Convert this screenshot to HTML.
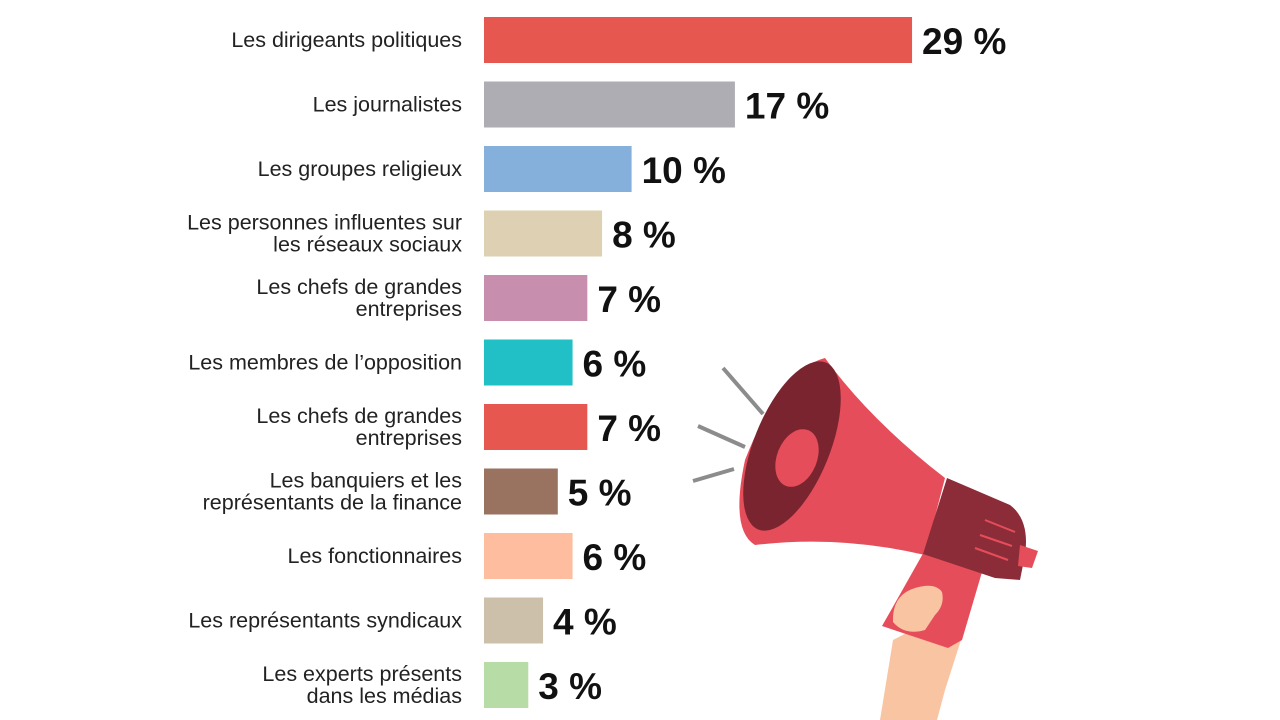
<!DOCTYPE html>
<html><head><meta charset="utf-8"><style>
body{margin:0;width:1280px;height:720px;background:#fff;overflow:hidden;font-family:"Liberation Sans",sans-serif}
svg{position:absolute;left:0;top:0}
</style></head><body>
<svg id="chart" width="1280" height="720">
<g id="mega">
 <g stroke="#8c8c8c" stroke-width="4">
  <line x1="723" y1="368" x2="763" y2="414"/>
  <line x1="698" y1="426" x2="745" y2="447"/>
  <line x1="693" y1="481" x2="734" y2="469"/>
 </g>
 <path d="M880,720 L893,640 L955,608 L968,618 L945,690 L937,720 Z" fill="#f9c4a2"/>
 <path d="M925,550 L982,572 L962,640 L948,648 L882,626 L890,612 Z" fill="#e64d5a"/>
 <path d="M893,622 Q892,595 915,588 Q935,582 942,592 Q945,605 935,615 L925,630 Q905,636 893,622Z" fill="#f9c4a2"/>
 <path d="M825,358 Q870,420 945,478 L925,555 Q840,535 755,545 Q730,530 745,460 Q780,370 825,358Z" fill="#e64d5a"/>
 <ellipse cx="792" cy="446" rx="38" ry="90" transform="rotate(22 792 446)" fill="#7a2430"/>
 <ellipse cx="797" cy="458" rx="20" ry="30" transform="rotate(22 797 458)" fill="#e64d5a"/>
 <path d="M947,478 L1010,505 Q1030,520 1025,555 L1020,580 L995,578 L923,554 Z" fill="#8b2c38"/>
 <path d="M1020,545 L1038,551 L1032,568 L1018,566Z" fill="#e64d5a"/>
 <g stroke="#e64d5a" stroke-width="2"><line x1="985" y1="520" x2="1015" y2="532"/><line x1="980" y1="535" x2="1012" y2="546"/><line x1="975" y1="548" x2="1008" y2="560"/></g>
</g>
<g id="bars"></g>
</svg>
<script>
const categories=[["Les dirigeants politiques"],["Les journalistes"],["Les groupes religieux"],["Les personnes influentes sur","les réseaux sociaux"],["Les chefs de grandes","entreprises"],["Les membres de l’opposition"],["Les chefs de grandes","entreprises"],["Les banquiers et les","représentants de la finance"],["Les fonctionnaires"],["Les représentants syndicaux"],["Les experts présents","dans les médias"]];
const values=[29,17,10,8,7,6,7,5,6,4,3];
const colors=["#e5574f","#adadb3","#86b0dc","#ddd0b3","#c78eae","#21c0c6","#e5574f","#9a7260","#ffbd9f","#ccc0aa","#b8dca6"];
const NS="http://www.w3.org/2000/svg";
const x=v=>484+v*14.76;
const y=i=>40+i*64.5;
const g=document.getElementById('bars');
values.forEach((v,i)=>{
 const r=document.createElementNS(NS,'rect');
 
 
 r.setAttribute('x',484);r.setAttribute('y',y(i)-23);r.setAttribute('width',x(v)-484);r.setAttribute('height',46);r.setAttribute('fill',colors[i]);
 g.appendChild(r);
 const t=document.createElementNS(NS,'text');
 
 
 t.setAttribute('x',x(v)+10);t.setAttribute('y',y(i)+14);t.setAttribute('font-size','37');t.setAttribute('font-weight','bold');t.setAttribute('fill','#111');
 t.textContent=v+' %';g.appendChild(t);
 const lines=categories[i];
 lines.forEach((s,k)=>{
  const l=document.createElementNS(NS,'text');
  
  
  l.setAttribute('x',462);l.setAttribute('text-anchor','end');l.setAttribute('font-size','21.5');l.setAttribute('fill','#222');
  l.setAttribute('y',y(i)+7+(k-(lines.length-1)/2)*22);
  l.textContent=s;g.appendChild(l);
 });
});
</script>
</body></html>
